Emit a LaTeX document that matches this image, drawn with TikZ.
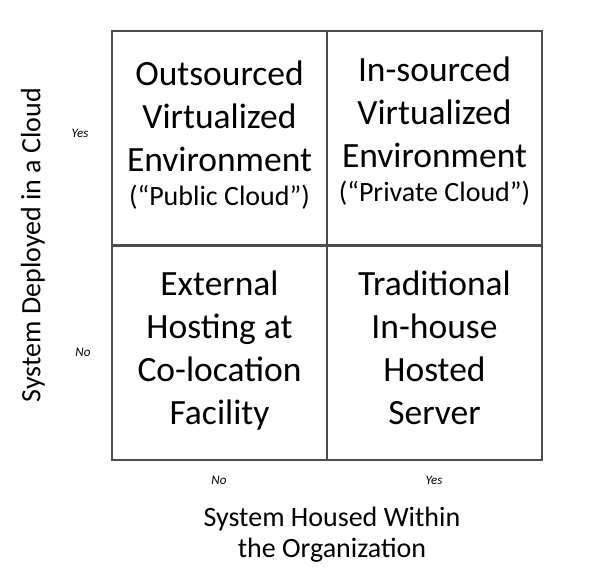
\documentclass[tikz,border=0pt]{standalone}
\usepackage{fontspec}
\setmainfont{Carlito}
\usepackage{tikz}

\tikzset{
  cell/.style={draw=black!70,line width=2pt,minimum width=215pt,minimum height=214pt,inner sep=0pt},
  celltext/.style={align=center,inner sep=0pt,text depth=0pt,font=\fontsize{35.5}{43}\selectfont},
  tick/.style={font=\fontsize{13}{15}\selectfont\itshape},
  axis/.style={align=center,font=\fontsize{28}{31}\selectfont}
}

\begin{document}
\begin{tikzpicture}[x=1pt,y=-1pt]
\useasboundingbox (0,0) rectangle (592,576);
% quadrants
\node[cell] (pub) at (219.5,138) {};
\node[cell] (priv) at (434.5,138) {};
\node[cell] (colo) at (219.5,352.5) {};
\node[cell] (inhouse) at (434.5,352.5) {};
\node[celltext] (pubtxt) at ([yshift=5pt]pub.center) {Outsourced\\Virtualized\\Environment\\[-9pt]{\fontsize{28}{34}\selectfont(“Public Cloud”)}};
\node[celltext] (privtxt) at ([yshift=9pt]priv.center) {In-sourced\\Virtualized\\Environment\\[-9pt]{\fontsize{28}{34}\selectfont(“Private Cloud”)}};
\node[celltext] (colotxt) at ([yshift=5pt]colo.center) {External\\Hosting at\\Co-location\\Facility};
\node[celltext] (inhousetxt) at ([yshift=5pt]inhouse.center) {Traditional\\In-house\\Hosted\\Server};
% axes
\node[tick] (yesl) at (80,133) {Yes};
\node[tick] (nol) at (83,352) {No};
\node[tick] (nob) at (219,480) {No};
\node[tick] (yesb) at (434,480) {Yes};
\node[axis,rotate=90] (ylab) at (33,245) {System Deployed in a Cloud};
\node[axis] (xlab) at (332,535) {System Housed Within\\the Organization};
\end{tikzpicture}
\end{document}
